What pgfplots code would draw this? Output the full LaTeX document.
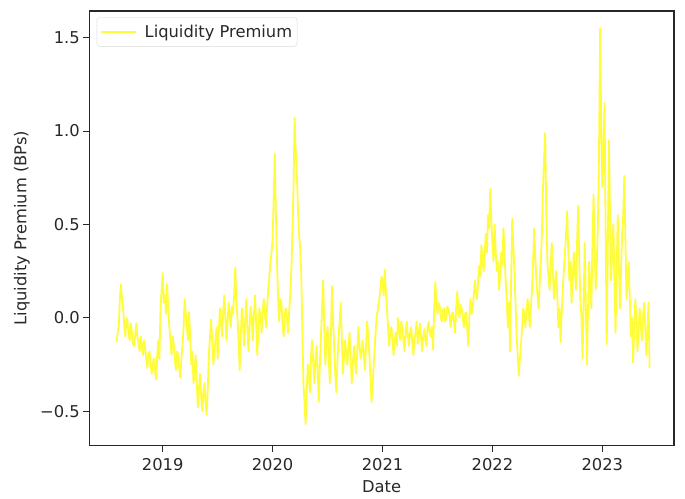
\documentclass[border=0pt]{standalone}
\usepackage{pgfplots}
\usepackage{pgfplotstable}
\pgfplotsset{compat=1.18}
\usepackage{fontspec}
\setmainfont{DejaVu Sans}
\definecolor{lpyellow}{RGB}{255,252,60}
\definecolor{txt}{RGB}{40,40,40}

\pgfplotstableread{
year value
2018.58 -0.13
2018.59 -0.08
2018.60 -0.05
2018.61 0.10
2018.62 0.18
2018.63 0.10
2018.64 0.05
2018.65 -0.04
2018.66 -0.10
2018.67 0.00
2018.68 -0.02
2018.69 -0.09
2018.70 -0.12
2018.71 -0.03
2018.72 -0.08
2018.73 -0.14
2018.74 -0.15
2018.75 -0.09
2018.76 -0.03
2018.77 -0.10
2018.78 -0.14
2018.79 -0.18
2018.80 -0.10
2018.81 -0.15
2018.82 -0.20
2018.83 -0.12
2018.84 -0.16
2018.85 -0.22
2018.86 -0.27
2018.87 -0.20
2018.88 -0.18
2018.89 -0.25
2018.90 -0.30
2018.91 -0.24
2018.92 -0.22
2018.93 -0.28
2018.94 -0.33
2018.95 -0.20
2018.96 -0.12
2018.97 -0.22
2018.98 0.05
2018.99 0.15
2019.00 0.24
2019.01 0.08
2019.02 0.12
2019.03 0.02
2019.04 0.18
2019.05 0.05
2019.06 -0.05
2019.07 -0.12
2019.08 -0.20
2019.09 -0.10
2019.10 -0.14
2019.11 -0.22
2019.12 -0.28
2019.13 -0.18
2019.14 -0.20
2019.15 -0.27
2019.16 -0.32
2019.17 -0.22
2019.18 -0.15
2019.19 -0.05
2019.20 0.10
2019.21 0.02
2019.22 -0.05
2019.23 -0.12
2019.24 0.03
2019.25 -0.10
2019.26 -0.25
2019.27 -0.18
2019.28 -0.35
2019.29 -0.28
2019.30 -0.20
2019.31 -0.35
2019.32 -0.48
2019.33 -0.38
2019.34 -0.30
2019.35 -0.42
2019.36 -0.50
2019.37 -0.40
2019.38 -0.35
2019.39 -0.45
2019.40 -0.52
2019.41 -0.38
2019.42 -0.20
2019.43 -0.10
2019.44 -0.01
2019.45 -0.12
2019.46 -0.25
2019.47 -0.18
2019.48 -0.12
2019.49 -0.05
2019.50 -0.22
2019.51 -0.08
2019.52 0.05
2019.53 -0.02
2019.54 -0.10
2019.55 0.03
2019.56 0.12
2019.57 0.00
2019.58 -0.12
2019.59 -0.02
2019.60 0.08
2019.61 0.02
2019.62 -0.05
2019.63 0.06
2019.64 0.02
2019.65 0.12
2019.66 0.27
2019.67 0.10
2019.68 0.00
2019.69 -0.12
2019.70 -0.28
2019.71 -0.10
2019.72 0.05
2019.73 -0.03
2019.74 -0.15
2019.75 -0.02
2019.76 0.10
2019.77 -0.05
2019.78 -0.18
2019.79 -0.05
2019.80 0.06
2019.81 0.00
2019.82 -0.12
2019.83 0.02
2019.84 0.12
2019.85 -0.02
2019.86 -0.20
2019.87 -0.08
2019.88 0.05
2019.89 0.00
2019.90 -0.08
2019.91 0.04
2019.92 0.10
2019.93 0.02
2019.94 -0.05
2019.95 0.06
2019.96 0.15
2019.97 0.22
2019.98 0.30
2019.99 0.35
2020.00 0.42
2020.01 0.65
2020.02 0.88
2020.03 0.55
2020.04 0.30
2020.05 0.10
2020.06 -0.02
2020.07 0.10
2020.08 0.08
2020.09 -0.03
2020.10 -0.10
2020.11 0.02
2020.12 0.05
2020.13 0.00
2020.14 -0.08
2020.15 0.03
2020.16 0.12
2020.17 0.25
2020.18 0.45
2020.19 0.70
2020.20 1.07
2020.21 0.90
2020.22 0.78
2020.23 0.60
2020.24 0.45
2020.25 0.38
2020.26 0.25
2020.27 -0.05
2020.28 -0.35
2020.29 -0.45
2020.30 -0.57
2020.31 -0.40
2020.32 -0.25
2020.33 -0.32
2020.34 -0.40
2020.35 -0.20
2020.36 -0.12
2020.37 -0.25
2020.38 -0.35
2020.39 -0.22
2020.40 -0.15
2020.41 -0.30
2020.42 -0.45
2020.43 -0.25
2020.44 -0.10
2020.45 0.05
2020.46 0.20
2020.47 -0.05
2020.48 -0.25
2020.49 -0.12
2020.50 -0.05
2020.51 -0.20
2020.52 -0.35
2020.53 -0.10
2020.54 0.17
2020.55 -0.02
2020.56 -0.15
2020.57 -0.30
2020.58 -0.40
2020.59 -0.22
2020.60 -0.10
2020.61 -0.02
2020.62 0.08
2020.63 -0.12
2020.64 -0.30
2020.65 -0.20
2020.66 -0.12
2020.67 -0.20
2020.68 -0.25
2020.69 -0.15
2020.70 -0.08
2020.71 -0.22
2020.72 -0.35
2020.73 -0.25
2020.74 -0.15
2020.75 -0.24
2020.76 -0.30
2020.77 -0.18
2020.78 -0.05
2020.79 -0.14
2020.80 -0.22
2020.81 -0.18
2020.82 -0.12
2020.83 -0.20
2020.84 -0.28
2020.85 -0.15
2020.86 -0.02
2020.87 -0.10
2020.88 -0.20
2020.89 -0.32
2020.90 -0.45
2020.91 -0.35
2020.92 -0.25
2020.93 -0.15
2020.94 -0.05
2020.95 0.02
2020.96 0.05
2020.97 0.10
2020.98 0.15
2020.99 0.22
2021.00 0.20
2021.01 0.12
2021.02 0.26
2021.03 0.15
2021.04 0.05
2021.05 -0.05
2021.06 -0.15
2021.07 -0.08
2021.08 -0.05
2021.09 -0.12
2021.10 -0.20
2021.11 -0.12
2021.12 -0.08
2021.13 -0.15
2021.14 0.00
2021.15 -0.06
2021.16 -0.12
2021.17 -0.02
2021.18 -0.05
2021.19 -0.12
2021.20 -0.18
2021.21 -0.08
2021.22 -0.02
2021.23 -0.10
2021.24 -0.15
2021.25 -0.08
2021.26 -0.05
2021.27 -0.12
2021.28 -0.20
2021.29 -0.12
2021.30 -0.08
2021.31 -0.02
2021.32 -0.14
2021.33 -0.08
2021.34 -0.03
2021.35 -0.10
2021.36 -0.18
2021.37 -0.10
2021.38 -0.06
2021.39 -0.12
2021.40 -0.15
2021.41 -0.05
2021.42 -0.02
2021.43 -0.08
2021.44 -0.10
2021.45 -0.05
2021.46 -0.17
2021.47 0.05
2021.48 0.19
2021.49 0.08
2021.50 0.02
2021.51 0.08
2021.52 0.06
2021.53 0.00
2021.54 -0.02
2021.55 0.04
2021.56 0.05
2021.57 -0.02
2021.58 0.00
2021.59 0.06
2021.60 0.04
2021.61 0.01
2021.62 -0.05
2021.63 0.02
2021.64 0.03
2021.65 -0.02
2021.66 -0.08
2021.67 0.05
2021.68 0.14
2021.69 0.05
2021.70 0.00
2021.71 0.07
2021.72 0.05
2021.73 0.00
2021.74 -0.05
2021.75 0.02
2021.76 0.03
2021.77 -0.05
2021.78 -0.15
2021.79 0.00
2021.80 0.10
2021.81 0.02
2021.82 0.05
2021.83 0.12
2021.84 0.20
2021.85 0.14
2021.86 0.10
2021.87 0.20
2021.88 0.28
2021.89 0.22
2021.90 0.39
2021.91 0.30
2021.92 0.25
2021.93 0.35
2021.94 0.45
2021.95 0.35
2021.96 0.55
2021.97 0.48
2021.98 0.69
2021.99 0.52
2022.00 0.40
2022.01 0.30
2022.02 0.50
2022.03 0.35
2022.04 0.25
2022.05 0.30
2022.06 0.15
2022.07 0.22
2022.08 0.35
2022.09 0.28
2022.10 0.48
2022.11 0.35
2022.12 0.20
2022.13 0.10
2022.14 -0.05
2022.15 0.08
2022.16 -0.18
2022.17 0.20
2022.18 0.53
2022.19 0.38
2022.20 0.25
2022.21 0.08
2022.22 -0.10
2022.23 -0.20
2022.24 -0.31
2022.25 -0.22
2022.26 -0.15
2022.27 -0.05
2022.28 0.05
2022.29 0.02
2022.30 -0.05
2022.31 0.04
2022.32 0.10
2022.33 0.03
2022.34 -0.05
2022.35 0.06
2022.36 0.15
2022.37 0.30
2022.38 0.48
2022.39 0.32
2022.40 0.20
2022.41 0.12
2022.42 0.05
2022.43 0.18
2022.44 0.30
2022.45 0.45
2022.46 0.70
2022.47 0.85
2022.48 0.99
2022.49 0.55
2022.50 0.30
2022.51 0.22
2022.52 0.15
2022.53 0.28
2022.54 0.40
2022.55 0.25
2022.56 0.10
2022.57 0.18
2022.58 0.25
2022.59 0.12
2022.60 -0.05
2022.61 0.05
2022.62 -0.13
2022.63 0.02
2022.64 0.15
2022.65 0.25
2022.66 0.35
2022.67 0.45
2022.68 0.57
2022.69 0.35
2022.70 0.20
2022.71 0.30
2022.72 0.08
2022.73 0.20
2022.74 0.35
2022.75 0.25
2022.76 0.15
2022.77 0.40
2022.78 0.60
2022.79 0.30
2022.80 0.10
2022.81 0.00
2022.82 -0.22
2022.83 0.10
2022.84 0.40
2022.85 0.05
2022.86 -0.25
2022.87 0.05
2022.88 0.30
2022.89 0.18
2022.90 0.05
2022.91 0.40
2022.92 0.66
2022.93 0.35
2022.94 0.15
2022.95 0.30
2022.96 0.50
2022.97 0.90
2022.98 1.55
2022.99 1.00
2023.00 0.70
2023.01 0.90
2023.02 1.15
2023.03 0.45
2023.04 -0.14
2023.05 0.40
2023.06 0.95
2023.07 0.55
2023.08 0.20
2023.09 0.35
2023.10 0.50
2023.11 0.20
2023.12 -0.08
2023.13 0.25
2023.14 0.55
2023.15 0.30
2023.16 0.05
2023.17 0.25
2023.18 0.45
2023.19 0.55
2023.20 0.76
2023.21 0.40
2023.22 0.10
2023.23 0.20
2023.24 0.30
2023.25 0.10
2023.26 -0.10
2023.27 0.00
2023.28 -0.24
2023.29 -0.05
2023.30 0.10
2023.31 -0.02
2023.32 -0.18
2023.33 -0.05
2023.34 0.05
2023.35 -0.05
2023.36 -0.12
2023.37 0.00
2023.38 0.08
2023.39 -0.05
2023.40 -0.20
2023.41 -0.08
2023.42 0.08
2023.43 -0.27
}\lpdata

\begin{document}
\begin{tikzpicture}
\useasboundingbox (-89.3bp,-53.5bp) rectangle (595.7bp,445.5bp);
\begin{axis}[
  scale only axis,
  width=584.7bp, height=434.5bp,
  xmin=2018.332, xmax=2023.652,
  ymin=-0.684, ymax=1.643,
  xtick={2019,2020,2021,2022,2023},
  xticklabels={2019,2020,2021,2022,2023},
  ytick={-0.5,0,0.5,1,1.5},
  yticklabels={−0.5,0.0,0.5,1.0,1.5},
  tick align=outside,
  major tick length=6bp,
  tick style={line width=1bp, color=txt},
  xtick pos=bottom, ytick pos=left,
  axis line style={line width=1.2bp, color=txt},
  font=\fontsize{16.3bp}{19.5bp}\selectfont,
  every tick label/.append style={text=txt},
  xticklabel style={yshift=-3bp},
  xlabel={Date},
  ylabel={Liquidity Premium (BPs)},
  xlabel style={at={(rel axis cs:0.5,0)}, anchor=center, yshift=-41bp, text=txt},
  ylabel style={at={(rel axis cs:0,0.5)}, anchor=center, yshift=67.3bp, text=txt},
  legend style={at={(0,1)}, anchor=north west, xshift=7.4bp, yshift=-6.3bp,
    draw=black!15, rounded corners=3bp, fill=white, inner xsep=3bp, inner ysep=5.5bp,
    font=\fontsize{16.3bp}{19.5bp}\selectfont, text=txt},
  legend cell align=left,
  legend image code/.code={\draw[#1] (0bp,0bp) -- (35bp,0bp); \path (41bp,0bp);},
]
\addplot[color=lpyellow, line width=1.8bp, line join=round] table[x=year, y=value] {\lpdata};
\addlegendentry{Liquidity Premium}
\end{axis}
\end{tikzpicture}
\end{document}
